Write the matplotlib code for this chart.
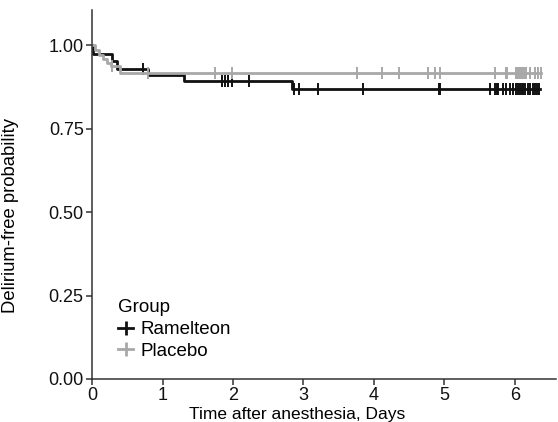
import numpy as np
import matplotlib.pyplot as plt
from matplotlib.lines import Line2D

plt.rcParams['font.family'] = ['Liberation Sans', 'DejaVu Sans']

# Kaplan-Meier steps (time in days, survival after step)
ram_times = [0.0, 0.02, 0.28, 0.35, 0.80, 1.31, 2.84]
ram_surv = [1.0, 0.975, 0.952, 0.930, 0.912, 0.892, 0.870]
ram_end = 6.35
ram_censor = [0.72, 1.85, 1.89, 1.93, 1.99, 2.23, 2.86, 2.94, 3.20, 3.85, 4.92, 4.94,
              5.65, 5.72, 5.74, 5.76, 5.83, 5.88, 5.93, 5.98, 6.01, 6.04, 6.07,
              6.10, 6.12, 6.15, 6.18, 6.22, 6.25, 6.28, 6.31, 6.34]

pla_times = [0.0, 0.04, 0.10, 0.16, 0.21, 0.27, 0.39]
pla_surv = [1.0, 0.985, 0.970, 0.958, 0.947, 0.938, 0.918]
pla_end = 6.37
pla_censor = [0.28, 0.80, 1.75, 1.99, 3.76, 4.11, 4.36, 4.77, 4.86, 4.94, 5.72,
              5.87, 5.89, 6.02, 6.04, 6.06, 6.08, 6.10, 6.13, 6.16, 6.22, 6.28,
              6.33, 6.37]

groups = ['Ramelteon', 'Placebo']
colors = ['#111111', '#a8a8a8']

fig = plt.figure(figsize=(5.58, 4.22), dpi=100)
ax = fig.add_axes([0.165, 0.102, 0.831, 0.874])


def km(ax, times, surv, end, censor, color):
    t = list(times) + [end]
    s = list(surv) + [surv[-1]]
    ax.step(t, s, where='post', color=color, lw=2.0)
    idx = np.searchsorted(times, censor, side='right') - 1
    ax.plot(censor, np.array(surv)[idx], ls='none', marker='|', ms=9,
            mew=1.4, color=color)


km(ax, ram_times, ram_surv, ram_end, ram_censor, colors[0])
km(ax, pla_times, pla_surv, pla_end, pla_censor, colors[1])

ax.set_xlim(0, 6.58)
ax.set_ylim(0, 1.105)
ax.set_xticks(range(0, 7))
ax.set_yticks([0, 0.25, 0.5, 0.75, 1.0])
ax.set_yticklabels(['0.00', '0.25', '0.50', '0.75', '1.00'])
for side in ['top', 'right']:
    ax.spines[side].set_visible(False)
for side in ['left', 'bottom']:
    ax.spines[side].set_color('#333333')
    ax.spines[side].set_linewidth(1.1)
ax.tick_params(axis='both', labelsize=13, color='#333333', length=4, width=1.1,
               labelcolor='#111111', pad=2)
ax.set_xlabel('Time after anesthesia, Days', fontsize=12.5)
ax.set_ylabel('Delirium-free probability', fontsize=13.3)
ax.xaxis.set_label_coords(0.443, -0.075)
ax.yaxis.set_label_coords(-0.158, 0.442)

handles = [Line2D([], [], color=c, lw=2.0, marker='|', ms=10, mew=2.0) for c in colors]
leg = ax.legend(handles, groups, title='Group', loc='upper left',
                bbox_to_anchor=(0.04, 0.236), frameon=False, fontsize=13.5,
                title_fontsize=13.5, handlelength=0.8, handletextpad=0.4,
                labelspacing=0.25, borderaxespad=0)
leg._legend_box.align = 'left'

fig.savefig('out.png', dpi=100)
